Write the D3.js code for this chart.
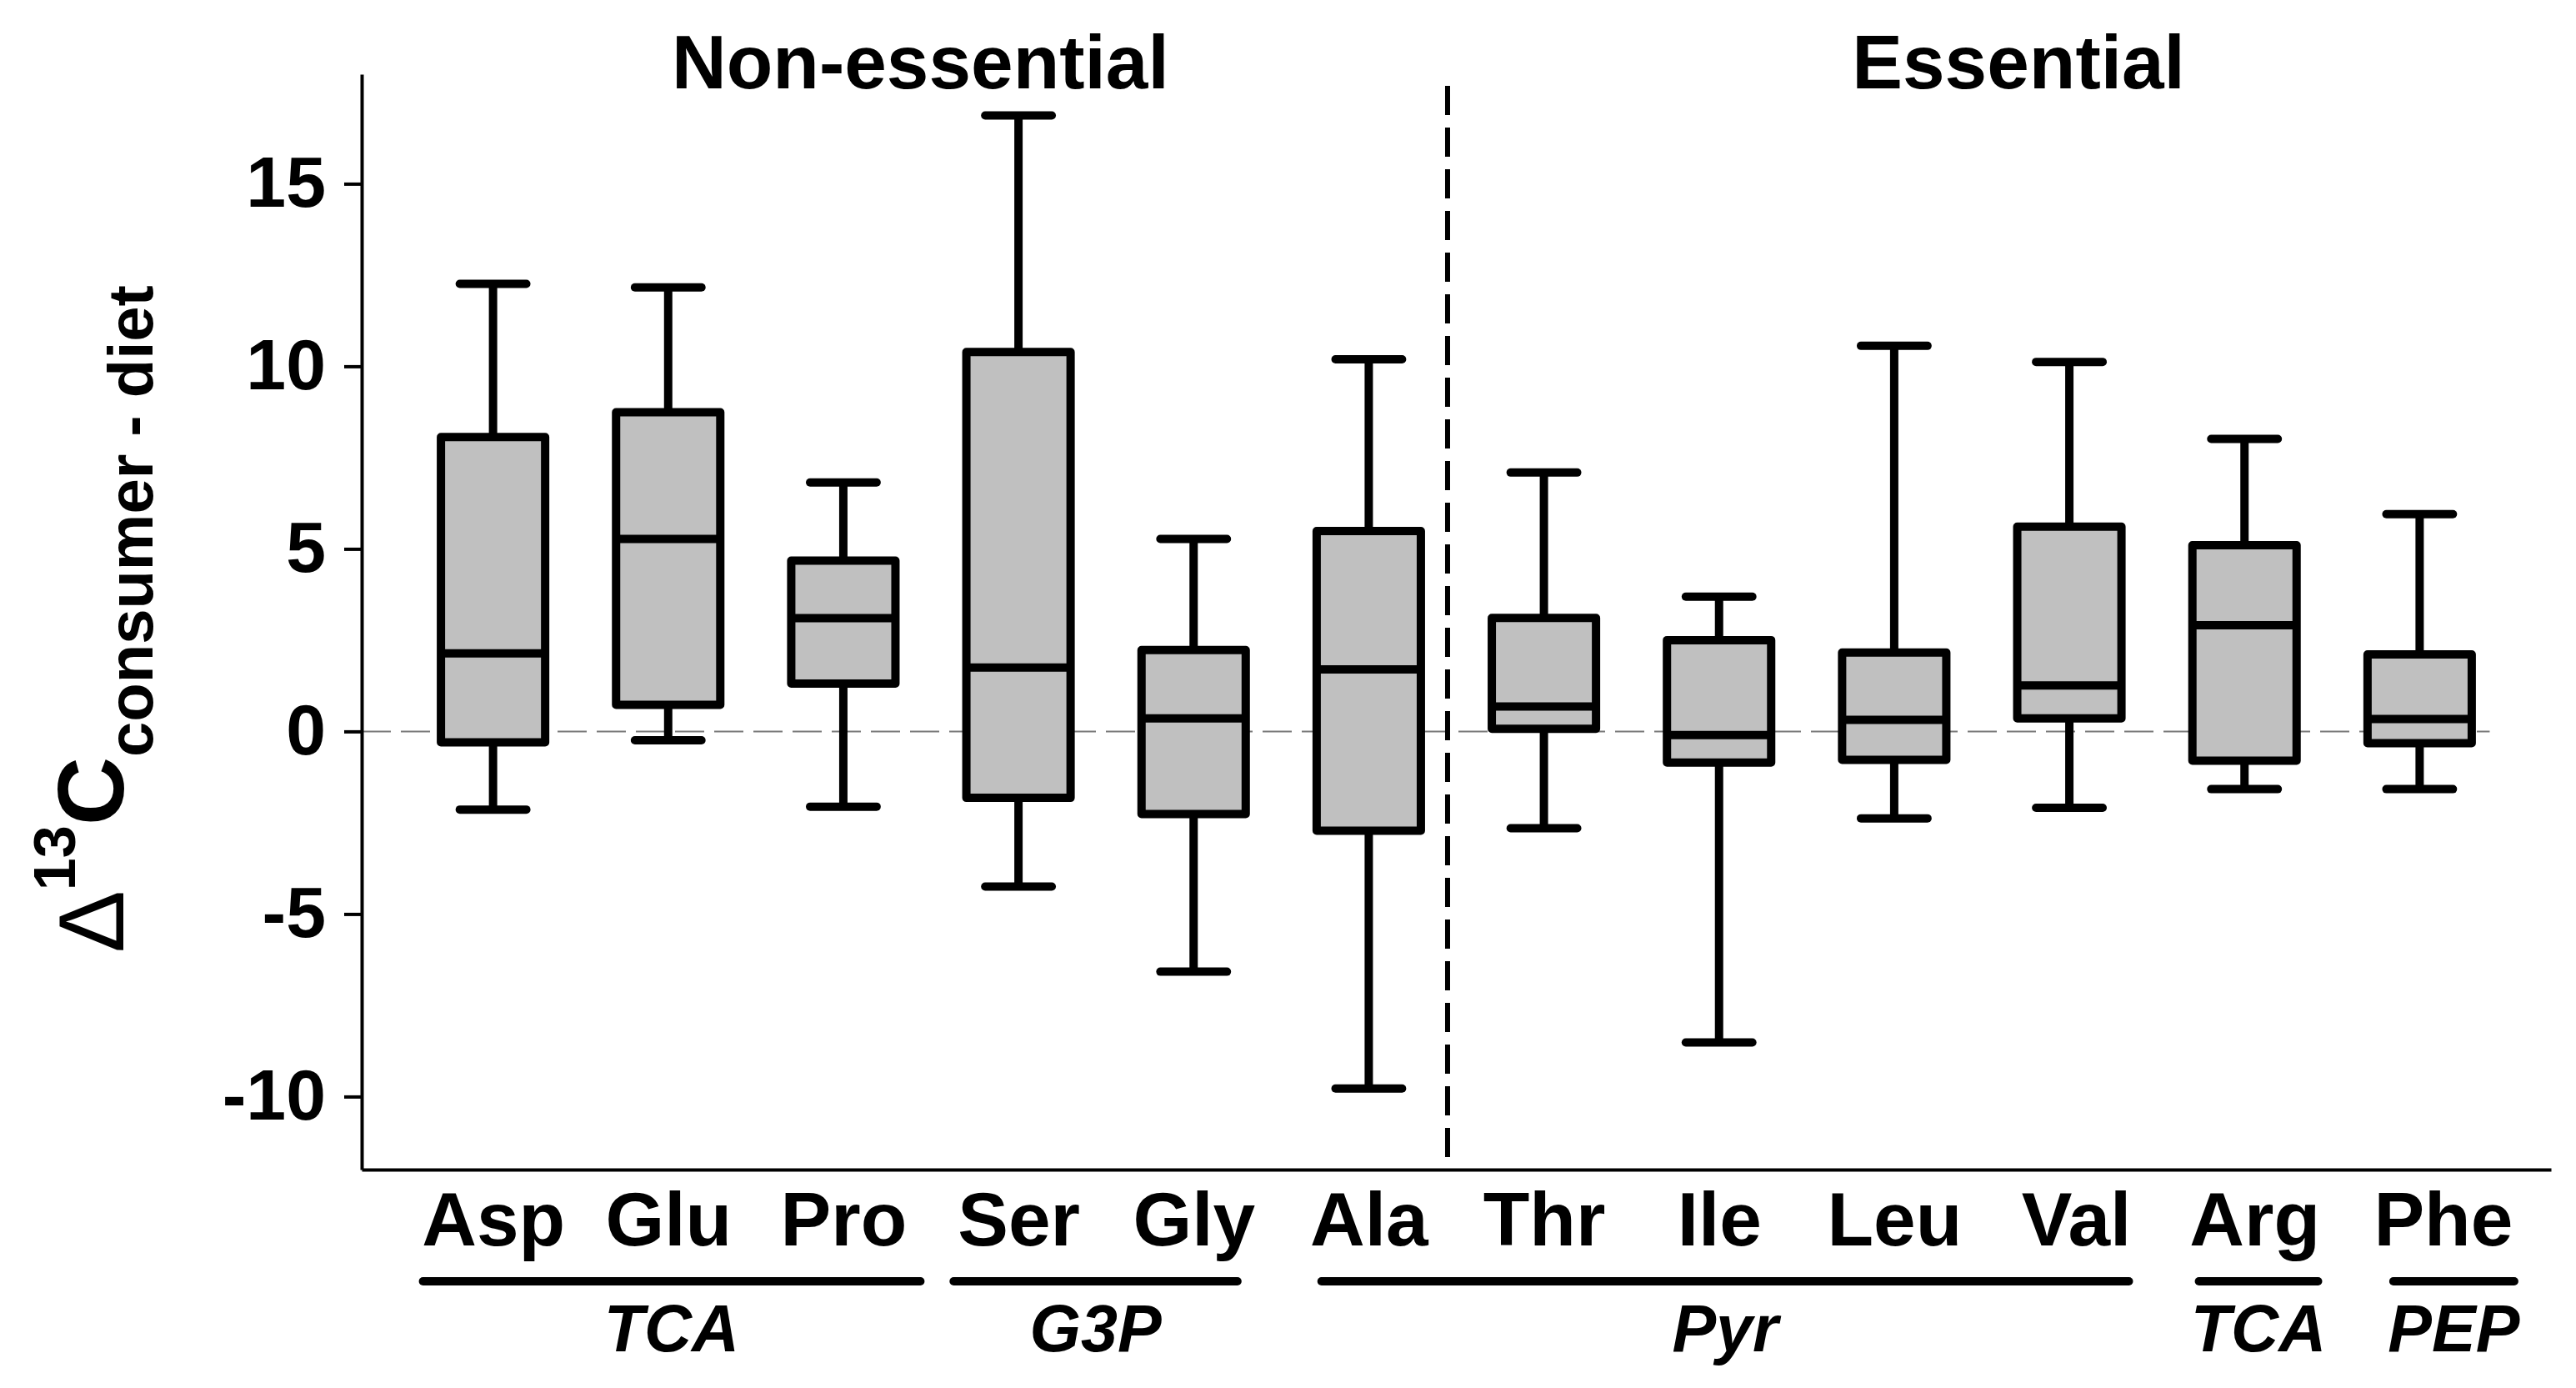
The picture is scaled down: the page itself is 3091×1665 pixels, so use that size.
<!DOCTYPE html>
<html>
<head>
<meta charset="utf-8">
<script src="https://cdn.jsdelivr.net/npm/d3@7"></script>
<style>
  body { margin: 0; background: #fff; }
  text { font-family: "Liberation Sans", Arial, sans-serif; }
</style>
</head>
<body>
<div id="chart"></div>
<script>
// Data
var acids = ["Asp", "Glu", "Pro", "Ser", "Gly", "Ala", "Thr", "Ile", "Leu", "Val", "Arg", "Phe"];
var whiskerHigh = [12.26, 12.16, 6.82, 16.87, 5.27, 10.19, 7.09, 3.69, 10.56, 10.12, 8.01, 5.95];
var q3 = [8.06, 8.74, 4.68, 10.39, 2.23, 5.49, 3.11, 2.50, 2.16, 5.61, 5.10, 2.11];
var median = [2.14, 5.27, 3.10, 1.75, 0.36, 1.70, 0.68, -0.10, 0.32, 1.26, 2.91, 0.34];
var q1 = [-0.30, 0.73, 1.31, -1.82, -2.26, -2.72, 0.07, -0.85, -0.78, 0.36, -0.80, -0.32];
var whiskerLow = [-2.14, -0.24, -2.06, -4.25, -6.58, -9.78, -2.65, -8.52, -2.38, -2.09, -1.58, -1.58];

var yTicks = [-10, -5, 0, 5, 10, 15];

var groupNames = ["TCA", "G3P", "Pyr", "TCA", "PEP"];
var groupFirst = ["Asp", "Ser", "Ala", "Arg", "Phe"];
var groupLast = ["Pro", "Gly", "Val", "Arg", "Phe"];

var panelNames = ["Non-essential", "Essential"];

// Configuring SVG
var svgWidth = 3091;
var svgHeight = 1665;

var plot = { left: 434, right: 3061, top: 89, bottom: 1403 };

var svg = d3.select("#chart")
    .append("svg")
    .attr("width", svgWidth)
    .attr("height", svgHeight);

var boxes = acids.map((a, i) => ({
    acid: a, hi: whiskerHigh[i], q3: q3[i], med: median[i], q1: q1[i], lo: whiskerLow[i]
}));

// Scales
var xScale = d3.scalePoint()
    .domain(acids)
    .range([plot.left, plot.right])
    .padding(0.75);

var yScale = d3.scaleLinear()
    .domain([-12, 18])
    .range([plot.bottom, plot.top]);

var step = xScale.step();
var boxW = step * 0.595;
var capW = step * 0.38;

// zero reference line
svg.append("line")
    .attr("x1", plot.left)
    .attr("x2", xScale("Phe") + step * 0.4)
    .attr("y1", yScale(0))
    .attr("y2", yScale(0))
    .attr("stroke", "#7a7a7a")
    .attr("stroke-width", 2)
    .attr("stroke-dasharray", "35,12");

// divider between non-essential and essential
var divX = xScale("Ala") + step * 0.45;
svg.append("line")
    .attr("x1", divX)
    .attr("x2", divX)
    .attr("y1", 103)
    .attr("y2", plot.bottom - 4)
    .attr("stroke", "#000")
    .attr("stroke-width", 6)
    .attr("stroke-dasharray", "35,15");

// Axes
var leftAxis = d3.axisLeft(yScale)
    .tickValues(yTicks)
    .tickFormat(d => String(d))
    .tickSize(21)
    .tickSizeOuter(0)
    .tickPadding(22);

var yAxisG = svg.append("g")
    .attr("transform", `translate(${plot.left}, 0)`)
    .call(leftAxis);
yAxisG.select(".domain").attr("stroke-width", 4);
yAxisG.selectAll(".tick line").attr("stroke-width", 4);
yAxisG.selectAll(".tick text")
    .attr("font-size", 86)
    .attr("font-weight", "bold")
    .attr("font-family", "Liberation Sans, Arial, sans-serif")
    .attr("fill", "#000");

var bottomAxis = d3.axisBottom(xScale)
    .tickSize(0)
    .tickSizeOuter(0)
    .tickPadding(26);

// the original labels drift a little to the right on the far side
var labelNudge = { Val: 8, Arg: 12, Phe: 28 };

var xAxisG = svg.append("g")
    .attr("transform", `translate(0, ${plot.bottom})`)
    .call(bottomAxis);
xAxisG.select(".domain").attr("stroke-width", 4);
xAxisG.selectAll(".tick text")
    .attr("font-size", 91)
    .attr("font-weight", "bold")
    .attr("font-family", "Liberation Sans, Arial, sans-serif")
    .attr("fill", "#000")
    .attr("dx", d => labelNudge[d] || 0);

// Box plots
var boxG = svg.append("g").selectAll("g")
    .data(boxes)
    .enter()
    .append("g");

// whiskers
boxG.append("line")
    .attr("x1", d => xScale(d.acid))
    .attr("x2", d => xScale(d.acid))
    .attr("y1", d => yScale(d.hi))
    .attr("y2", d => yScale(d.q3))
    .attr("stroke", "#000")
    .attr("stroke-width", 10);

boxG.append("line")
    .attr("x1", d => xScale(d.acid))
    .attr("x2", d => xScale(d.acid))
    .attr("y1", d => yScale(d.q1))
    .attr("y2", d => yScale(d.lo))
    .attr("stroke", "#000")
    .attr("stroke-width", 10);

// caps
["hi", "lo"].forEach(k => {
    boxG.append("line")
        .attr("x1", d => xScale(d.acid) - capW / 2)
        .attr("x2", d => xScale(d.acid) + capW / 2)
        .attr("y1", d => yScale(d[k]))
        .attr("y2", d => yScale(d[k]))
        .attr("stroke", "#000")
        .attr("stroke-width", 10)
        .attr("stroke-linecap", "round");
});

// boxes
boxG.append("rect")
    .attr("x", d => xScale(d.acid) - boxW / 2)
    .attr("width", boxW)
    .attr("y", d => yScale(d.q3))
    .attr("height", d => yScale(d.q1) - yScale(d.q3))
    .attr("fill", "#c0c0c0")
    .attr("stroke", "#000")
    .attr("stroke-width", 10)
    .attr("stroke-linejoin", "round");

// medians
boxG.append("line")
    .attr("x1", d => xScale(d.acid) - boxW / 2)
    .attr("x2", d => xScale(d.acid) + boxW / 2)
    .attr("y1", d => yScale(d.med))
    .attr("y2", d => yScale(d.med))
    .attr("stroke", "#000")
    .attr("stroke-width", 10);

// Pathway groups under the axis labels
var padL = [0.40, 0.37, 0.27, 0.26, 0.15];
var padR = [0.44, 0.25, 0.34, 0.42, 0.54];

var groups = groupNames.map((g, i) => ({
    name: g,
    x1: xScale(groupFirst[i]) - padL[i] * step,
    x2: xScale(groupLast[i]) + padR[i] * step
}));

var groupG = svg.append("g").selectAll("g")
    .data(groups)
    .enter()
    .append("g");

groupG.append("line")
    .attr("x1", d => d.x1)
    .attr("x2", d => d.x2)
    .attr("y1", 1537)
    .attr("y2", 1537)
    .attr("stroke", "#000")
    .attr("stroke-width", 10)
    .attr("stroke-linecap", "round");

groupG.append("text")
    .attr("x", d => (d.x1 + d.x2) / 2)
    .attr("y", 1621)
    .attr("text-anchor", "middle")
    .attr("font-size", 79)
    .attr("font-weight", "bold")
    .attr("font-style", "italic")
    .text(d => d.name);

// Panel titles
var panelX = [xScale("Pro") + step * 0.44, xScale("Val") - step * 0.29];
svg.append("g").selectAll("text")
    .data(panelNames)
    .enter()
    .append("text")
    .attr("x", (d, i) => panelX[i])
    .attr("y", 106)
    .attr("text-anchor", "middle")
    .attr("font-size", 91)
    .attr("font-weight", "bold")
    .text(d => d);

// Y axis label: Δ13C consumer - diet
var yLabel = svg.append("text")
    .attr("transform", "translate(148, 1143) rotate(-90)")
    .attr("text-anchor", "start");

yLabel.append("tspan")
    .attr("font-size", 112)
    .attr("font-weight", "normal")
    .text("Δ");
yLabel.append("tspan")
    .attr("font-size", 70)
    .attr("font-weight", "bold")
    .attr("dy", -58)
    .text("13");
yLabel.append("tspan")
    .attr("font-size", 114)
    .attr("font-weight", "bold")
    .attr("dy", 58)
    .text("C");
yLabel.append("tspan")
    .attr("font-size", 76)
    .attr("font-weight", "bold")
    .attr("dy", 35)
    .text("consumer - diet");
</script>
</body>
</html>
